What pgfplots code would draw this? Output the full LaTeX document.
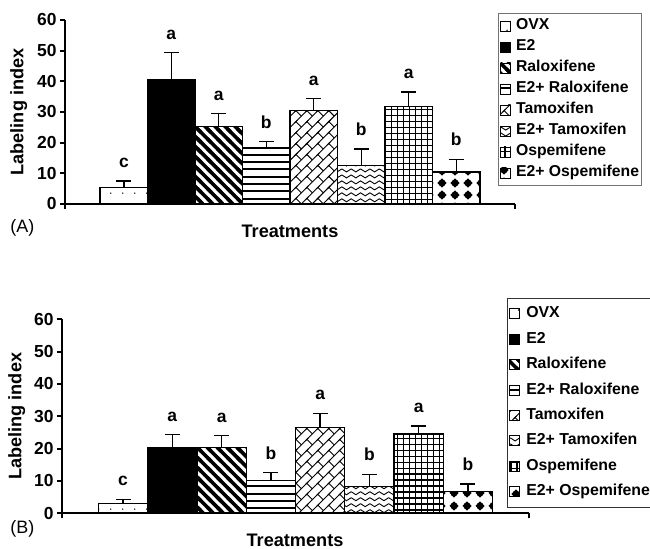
\documentclass[border=0pt]{standalone}
\usepackage{pgfplots}
\pgfplotsset{compat=1.18}
\usepackage{fontspec}
\setmainfont{Liberation Sans}
\usetikzlibrary{patterns}

% sparse dots (OVX)
\pgfdeclarepatternformonly{sparsedots}{\pgfqpoint{0pt}{0pt}}{\pgfqpoint{11.7pt}{11.7pt}}{\pgfqpoint{11.7pt}{11.7pt}}{%
  \pgfpathcircle{\pgfqpoint{5.85pt}{5.85pt}}{0.8pt}\pgfusepath{fill}}
% thick falling lines (Raloxifene)
\pgfdeclarepatternformonly{fallthick}{\pgfqpoint{-3pt}{-3pt}}{\pgfqpoint{13pt}{13pt}}{\pgfqpoint{10pt}{10pt}}{%
  \pgfsetlinewidth{3.6pt}%
  \pgfpathmoveto{\pgfqpoint{-2pt}{12pt}}\pgfpathlineto{\pgfqpoint{12pt}{-2pt}}%
  \pgfusepath{stroke}}
% horizontal lines (E2+ Raloxifene)
\pgfdeclarepatternformonly{hlines}{\pgfqpoint{-1pt}{0pt}}{\pgfqpoint{8pt}{7.4pt}}{\pgfqpoint{7pt}{7.4pt}}{%
  \pgfsetlinewidth{2pt}%
  \pgfpathmoveto{\pgfqpoint{-1pt}{3.7pt}}\pgfpathlineto{\pgfqpoint{8pt}{3.7pt}}%
  \pgfusepath{stroke}}
% diagonal brick (Tamoxifen)
\pgfdeclarepatternformonly{brick}{\pgfqpoint{-2pt}{-2pt}}{\pgfqpoint{13pt}{13pt}}{\pgfqpoint{11pt}{11pt}}{%
  \pgfsetlinewidth{0.9pt}%
  \pgfpathmoveto{\pgfqpoint{-1.5pt}{-1.5pt}}\pgfpathlineto{\pgfqpoint{12.5pt}{12.5pt}}%
  \pgfpathmoveto{\pgfqpoint{0pt}{11pt}}\pgfpathlineto{\pgfqpoint{5.5pt}{5.5pt}}%
  \pgfusepath{stroke}}
% zigzag (E2+ Tamoxifen)
\pgfdeclarepatternformonly{zigzag}{\pgfqpoint{-1pt}{-1pt}}{\pgfqpoint{10.4pt}{7pt}}{\pgfqpoint{9.4pt}{6pt}}{%
  \pgfsetlinewidth{0.9pt}\pgfsetroundcap\pgfsetroundjoin
  \pgfpathmoveto{\pgfqpoint{0pt}{0.5pt}}\pgfpathlineto{\pgfqpoint{4.7pt}{3.5pt}}\pgfpathlineto{\pgfqpoint{9.4pt}{0.5pt}}%
  \pgfusepath{stroke}}
% grid (Ospemifene)
\pgfdeclarepatternformonly{grid6}{\pgfqpoint{-0.5pt}{-0.5pt}}{\pgfqpoint{6.5pt}{6.5pt}}{\pgfqpoint{6pt}{6pt}}{%
  \pgfsetlinewidth{1.6pt}%
  \pgfpathmoveto{\pgfqpoint{-0.5pt}{3pt}}\pgfpathlineto{\pgfqpoint{6.5pt}{3pt}}%
  \pgfpathmoveto{\pgfqpoint{3pt}{-0.5pt}}\pgfpathlineto{\pgfqpoint{3pt}{6.5pt}}%
  \pgfusepath{stroke}}
% diamonds (E2+ Ospemifene)
\pgfdeclarepatternformonly{diamonds}{\pgfqpoint{0pt}{0pt}}{\pgfqpoint{12.5pt}{12.5pt}}{\pgfqpoint{12.5pt}{12.5pt}}{%
  \pgfpathmoveto{\pgfqpoint{6.25pt}{1.5pt}}\pgfpathlineto{\pgfqpoint{11pt}{6.25pt}}%
  \pgfpathlineto{\pgfqpoint{6.25pt}{11pt}}\pgfpathlineto{\pgfqpoint{1.5pt}{6.25pt}}\pgfpathclose
  \pgfpathcircle{\pgfqpoint{6.25pt}{6.25pt}}{3.8pt}%
  \pgfusepath{fill}}

\tikzset{lbl/.style={font=\fontsize{17.5}{17.5}\selectfont\bfseries, anchor=base, yshift=13.5bp}}

\pgfplotsset{
  mybars/.style={
    ybar, bar width=1,
    scale only axis,
    xmin=-0.24, xmax=9.24, ymin=0, ymax=60,
    axis x line=bottom, axis y line=left,
    axis line style={-, line width=2bp},
    ytick={0,10,...,60},
    xtick={-0.24,9.24}, xticklabels={},
    tick align=outside, major tick length=5bp,
    tick style={line width=2bp, black},
    /pgf/number format/assume math mode=true,
    tick label style={font=\fontsize{17.5}{17.5}\selectfont\bfseries},
    ylabel={Labeling index}, xlabel={Treatments},
    label style={font=\fontsize{18.2}{18.2}\selectfont\bfseries},
    legend cell align=left,
    clip=false,
    every axis plot/.append style={bar shift=0pt, draw=black, line width=1.4bp,
      legend image code/.code={\draw[##1, line width=0.8bp] (0bp,-5bp) rectangle (10bp,5bp);},
      error bars/y dir=plus, error bars/y explicit,
      error bars/error mark options={rotate=90, line width=1.3bp, mark size=7.5bp, black},
      error bars/error bar style={line width=1.3bp, black}},
  }
}

\begin{document}
\begin{tikzpicture}
\path[use as bounding box] (0,0) rectangle (650bp,549bp);

% ---------------- Panel A ----------------
\begin{axis}[mybars,
  at={(65bp,345bp)}, anchor=south west,
  width=450bp, height=184bp,
  ylabel style={at={(axis description cs:-0.103,0.5)}, anchor=center, rotate=0},
  xlabel style={at={(axis description cs:0.5,-0.181)}, anchor=base},
  legend style={at={(0.962,1.038)}, anchor=north west, draw=black!55, line width=0.8bp,
    font=\fontsize{15.8}{15.8}\selectfont\bfseries, row sep=7bp, column sep=5bp,
    inner xsep=2bp, inner ysep=5.5bp,
    nodes={inner sep=0pt, text height=11bp, text depth=3bp}},
]
\addplot[pattern=sparsedots] coordinates {(1,5.3) +- (0,2.2)};
\addlegendentry{OVX}
\addplot[fill=black] coordinates {(2,40.4) +- (0,9.0)};
\addlegendentry{E2}
\addplot[pattern=fallthick] coordinates {(3,25.2) +- (0,4.3)};
\addlegendentry{Raloxifene}
\addplot[pattern=hlines] coordinates {(4,18.3) +- (0,2.0)};
\addlegendentry{E2+ Raloxifene}
\addplot[pattern=brick] coordinates {(5,30.4) +- (0,3.9)};
\addlegendentry{Tamoxifen}
\addplot[pattern=zigzag] coordinates {(6,12.5) +- (0,5.4)};
\addlegendentry{E2+ Tamoxifen}
\addplot[pattern=grid6] coordinates {(7,31.7) +- (0,4.8)};
\addlegendentry{Ospemifene}
\addplot[pattern=diamonds] coordinates {(8,10.4) +- (0,4.2)};
\addlegendentry{E2+ Ospemifene}
\node[lbl] at (axis cs:1,7.5) {c};
\node[lbl] at (axis cs:2,49.4) {a};
\node[lbl] at (axis cs:3,29.5) {a};
\node[lbl] at (axis cs:4,20.3) {b};
\node[lbl] at (axis cs:5,34.3) {a};
\node[lbl] at (axis cs:6,17.9) {b};
\node[lbl] at (axis cs:7,36.5) {a};
\node[lbl] at (axis cs:8,14.6) {b};
\node[font=\fontsize{18}{18}\selectfont, anchor=base west] at (axis description cs:-0.129,-0.157) {(A)};
\end{axis}

% ---------------- Panel B ----------------
\begin{axis}[mybars,
  at={(62bp,35.7bp)}, anchor=south west,
  width=467bp, height=194bp,
  ylabel style={at={(axis description cs:-0.097,0.5)}, anchor=center, rotate=0},
  xlabel style={at={(axis description cs:0.499,-0.171)}, anchor=base},
  legend style={at={(0.953,1.11)}, anchor=north west, draw=black!80, line width=0.8bp,
    font=\fontsize{15.9}{15.9}\selectfont\bfseries, row sep=10.4bp, column sep=6bp,
    inner xsep=2bp, inner ysep=8bp,
    nodes={inner sep=0pt, text height=11.5bp, text depth=3.5bp}},
]
\addplot[pattern=sparsedots] coordinates {(1,3.1) +- (0,1.2)};
\addlegendentry{OVX}
\addplot[fill=black] coordinates {(2,20.4) +- (0,3.9)};
\addlegendentry{E2}
\addplot[pattern=fallthick] coordinates {(3,20.4) +- (0,3.6)};
\addlegendentry{Raloxifene}
\addplot[pattern=hlines] coordinates {(4,10.1) +- (0,2.5)};
\addlegendentry{E2+ Raloxifene}
\addplot[pattern=brick] coordinates {(5,26.6) +- (0,4.3)};
\addlegendentry{Tamoxifen}
\addplot[pattern=zigzag] coordinates {(6,8.2) +- (0,3.9)};
\addlegendentry{E2+ Tamoxifen}
\addplot[pattern=grid6] coordinates {(7,24.5) +- (0,2.5)};
\addlegendentry{Ospemifene}
\addplot[pattern=diamonds] coordinates {(8,6.7) +- (0,2.4)};
\addlegendentry{E2+ Ospemifene}
\node[lbl] at (axis cs:1,4.3) {c};
\node[lbl] at (axis cs:2,24.3) {a};
\node[lbl] at (axis cs:3,24.0) {a};
\node[lbl] at (axis cs:4,12.6) {b};
\node[lbl] at (axis cs:5,30.9) {a};
\node[lbl] at (axis cs:6,12.1) {b};
\node[lbl] at (axis cs:7,27.0) {a};
\node[lbl] at (axis cs:8,9.1) {b};
\node[font=\fontsize{18}{18}\selectfont, anchor=base west] at (axis description cs:-0.118,-0.1026) {(B)};
\end{axis}
\end{tikzpicture}
\end{document}
